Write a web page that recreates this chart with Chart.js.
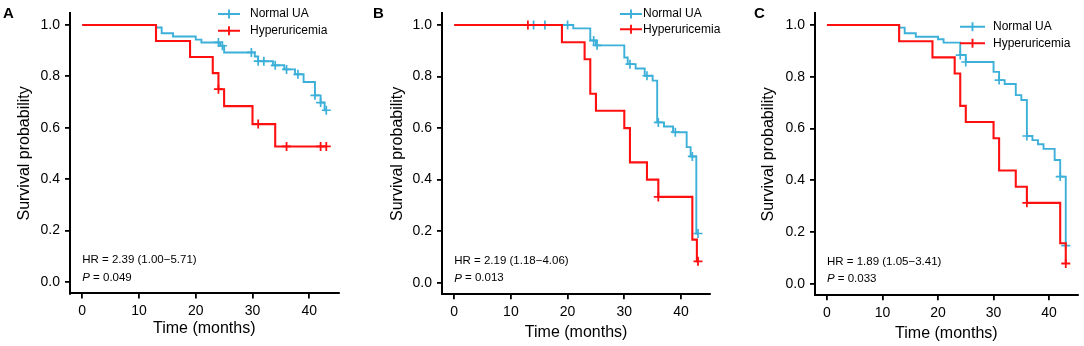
<!DOCTYPE html>
<html>
<head>
<meta charset="utf-8">
<script src="https://cdn.jsdelivr.net/npm/chart.js@4"></script>
<style>
  html, body { margin: 0; padding: 0; background: #fff; }
  #wrap { position: relative; width: 1084px; height: 346px; }
  canvas { position: absolute; top: 0; }
</style>
</head>
<body>
<div id="wrap">
  <canvas id="panelA" width="360" height="346" style="left:0px"></canvas>
  <canvas id="panelB" width="362" height="346" style="left:360px"></canvas>
  <canvas id="panelC" width="362" height="346" style="left:722px"></canvas>
</div>
<script>
// tick labels and legend
const monthTicks = [0, 10, 20, 30, 40];
const survTicks = [0, 0.2, 0.4, 0.6, 0.8, 1.0];
const groupNames = ["Normal UA", "Hyperuricemia"];
const panelLetters = ["A", "B", "C"];
const hrLabels = ["HR = 2.39 (1.00\u22125.71)", "HR = 2.19 (1.18\u22124.06)", "HR = 1.89 (1.05\u22123.41)"];
const pValues = ["0.049", "0.013", "0.033"];

// Panel A - KM steps (time, survival) and censored times
const aNormalTime = [0, 13, 14, 16, 20, 21, 24.3, 25, 30.4, 31, 33.6, 35.6, 37.5, 39, 41, 42, 42.7, 43];
const aNormalSurv = [1, 0.99, 0.968, 0.955, 0.943, 0.932, 0.919, 0.893, 0.877, 0.859, 0.843, 0.827, 0.808, 0.778, 0.726, 0.698, 0.668, 0.668];
const aNormalCens = [24, 24.7, 29.8, 31, 32, 34, 36, 38, 41, 42, 43];
const aHyperTime = [0, 13, 19, 23, 24, 25, 30, 34, 43];
const aHyperSurv = [1, 0.9375, 0.875, 0.8125, 0.75, 0.684, 0.614, 0.527, 0.527];
const aHyperCens = [24, 31, 36, 42, 43];

// Panel B
const bNormalTime = [0, 21, 24, 25, 30, 30.6, 32, 33.6, 35, 35.8, 37, 38.6, 41, 41.7, 42.7, 43];
const bNormalSurv = [1, 0.987, 0.94, 0.921, 0.874, 0.848, 0.831, 0.803, 0.784, 0.622, 0.606, 0.584, 0.526, 0.49, 0.191, 0.191];
const bNormalCens = [14, 16, 20, 24.6, 25.2, 31, 34, 36, 39, 42, 43];
const bHyperTime = [0, 19, 23, 24, 25, 30, 31, 34, 36, 42, 42.8, 43];
const bHyperSurv = [1, 0.933, 0.867, 0.733, 0.667, 0.6, 0.467, 0.4, 0.333, 0.167, 0.083, 0.083];
const bHyperCens = [13, 36, 43];

// Panel C
const cNormalTime = [0, 13, 14, 16, 20, 21, 24, 25, 30, 31, 32, 34, 35, 36, 37, 38, 39, 41, 42, 43];
const cNormalSurv = [1, 0.99, 0.968, 0.955, 0.945, 0.932, 0.884, 0.857, 0.819, 0.787, 0.772, 0.729, 0.71, 0.571, 0.555, 0.539, 0.521, 0.478, 0.414, 0.147];
const cNormalCens = [24, 25, 31, 36, 42, 43];
const cHyperTime = [0, 13, 19, 23, 24, 25, 30, 31, 34, 36, 42, 43];
const cHyperSurv = [1, 0.9375, 0.875, 0.8125, 0.6875, 0.625, 0.5625, 0.4375, 0.375, 0.3125, 0.156, 0.078];
const cHyperCens = [36, 43];

const BLUE = "#3cb0d8";
const RED = "#ff1010";

Chart.defaults.font.family = "'Liberation Sans', Arial, sans-serif";
Chart.defaults.color = "#000";

// layout of each panel (canvas px)
const layouts = [
  { left: 70, top: 10.6, padRight: 21.5, xHeight: 52.6, yTitlePad: 15.4, xTitlePad: 8,
    legend: { x: 218, len: 22, gap: 10, rows: [14, 30.7] }, letterX: 3 },
  { left: 82, top: 12.4, padRight: 11.8, xHeight: 51.7, yTitlePad: 27.7, xTitlePad: 4,
    legend: { x: 260, len: 22, gap: 1, rows: [14, 29.3] }, letterX: 13 },
  { left: 93, top: 13.4, padRight: 2.2, xHeight: 50.7, yTitlePad: 37.1, xTitlePad: 3,
    legend: { x: 238, len: 25, gap: 8, rows: [26.7, 43.3] }, letterX: 32 },
];

function stepPoints(times, surv) {
  return times.map((t, i) => ({ x: t, y: surv[i] }));
}

// value of the KM curve at a censoring time
function censorPoints(cens, times, surv) {
  return cens.map(c => {
    let v = surv[0];
    for (let i = 0; i < times.length; i++) if (times[i] <= c) v = surv[i];
    return { x: c, y: v };
  });
}

const annotPlugin = {
  id: "kmAnnot",
  afterDraw(chart, args, opts) {
    const { ctx, scales } = chart;
    const lay = opts.layout;
    ctx.save();
    // legend
    const colors = [BLUE, RED];
    ctx.font = "12px 'Liberation Sans', Arial, sans-serif";
    ctx.textBaseline = "middle";
    groupNames.forEach((name, i) => {
      const y = lay.legend.rows[i];
      const x0 = lay.legend.x, x1 = x0 + lay.legend.len, xm = (x0 + x1) / 2;
      ctx.strokeStyle = colors[i];
      ctx.lineWidth = 1.9;
      ctx.beginPath();
      ctx.moveTo(x0, y); ctx.lineTo(x1, y);
      ctx.moveTo(xm, y - 4.5); ctx.lineTo(xm, y + 4.5);
      ctx.stroke();
      ctx.fillStyle = "#000";
      ctx.textAlign = "left";
      ctx.fillText(name, x1 + lay.legend.gap, y);
    });
    // HR and P
    const xs = scales.x.getPixelForValue(0);
    ctx.font = "11.5px 'Liberation Sans', Arial, sans-serif";
    ctx.fillText(opts.hr, xs, scales.y.getPixelForValue(0.085));
    const yp = scales.y.getPixelForValue(0.017);
    ctx.font = "italic 11.5px 'Liberation Sans', Arial, sans-serif";
    ctx.fillText("P", xs, yp);
    const pw = ctx.measureText("P").width;
    ctx.font = "11.5px 'Liberation Sans', Arial, sans-serif";
    ctx.fillText(" = " + opts.p, xs + pw, yp);
    // panel letter
    ctx.font = "bold 15px 'Liberation Sans', Arial, sans-serif";
    ctx.textBaseline = "alphabetic";
    ctx.fillText(opts.letter, lay.letterX, 18);
    ctx.restore();
  }
};

function makePanel(id, idx, normal, hyper) {
  const lay = layouts[idx];
  new Chart(document.getElementById(id), {
    type: "line",
    data: {
      datasets: [
        { data: stepPoints(hyper.time, hyper.surv), borderColor: RED, borderWidth: 2.1,
          stepped: "before", pointRadius: 0, fill: false },
        { data: censorPoints(hyper.cens, hyper.time, hyper.surv), showLine: false,
          pointStyle: "cross", pointRadius: 4.5, pointBorderColor: RED, pointBorderWidth: 1.8 },
        { data: stepPoints(normal.time, normal.surv), borderColor: BLUE, borderWidth: 1.9,
          stepped: "before", pointRadius: 0, fill: false },
        { data: censorPoints(normal.cens, normal.time, normal.surv), showLine: false,
          pointStyle: "cross", pointRadius: 4.5, pointBorderColor: BLUE, pointBorderWidth: 1.7 },
      ]
    },
    options: {
      responsive: false,
      animation: false,
      events: [],
      layout: { padding: { left: 0, top: lay.top, right: lay.padRight, bottom: 0 } },
      plugins: {
        legend: { display: false },
        tooltip: { enabled: false },
        kmAnnot: { layout: lay, hr: hrLabels[idx], p: pValues[idx], letter: panelLetters[idx] }
      },
      scales: {
        x: {
          type: "linear", min: -2.15, max: 45.15,
          afterBuildTicks: s => { s.ticks = monthTicks.map(v => ({ value: v })); },
          afterFit: s => { s.height = lay.xHeight; },
          border: { display: true, color: "#000", width: 2 },
          grid: { drawOnChartArea: false, drawTicks: true, tickLength: 5, color: "#000", lineWidth: 1.8 },
          ticks: { font: { size: 14 }, padding: 4, maxRotation: 0, callback: v => String(v) },
          title: { display: true, text: "Time (months)", font: { size: 16 }, padding: { top: 0, bottom: lay.xTitlePad } }
        },
        y: {
          type: "linear", min: -0.045, max: 1.045,
          afterBuildTicks: s => { s.ticks = survTicks.map(v => ({ value: v })); },
          afterFit: s => { s.width = lay.left; },
          border: { display: true, color: "#000", width: 2 },
          grid: { drawOnChartArea: false, drawTicks: true, tickLength: 5, color: "#000", lineWidth: 1.8 },
          ticks: { font: { size: 14 }, padding: 5, callback: v => v.toFixed(1) },
          title: { display: true, text: "Survival probability", font: { size: 16 }, padding: { top: lay.yTitlePad, bottom: 0 } }
        }
      }
    },
    plugins: [annotPlugin]
  });
}

makePanel("panelA", 0,
  { time: aNormalTime, surv: aNormalSurv, cens: aNormalCens },
  { time: aHyperTime, surv: aHyperSurv, cens: aHyperCens });
makePanel("panelB", 1,
  { time: bNormalTime, surv: bNormalSurv, cens: bNormalCens },
  { time: bHyperTime, surv: bHyperSurv, cens: bHyperCens });
makePanel("panelC", 2,
  { time: cNormalTime, surv: cNormalSurv, cens: cNormalCens },
  { time: cHyperTime, surv: cHyperSurv, cens: cHyperCens });
</script>
</body>
</html>
